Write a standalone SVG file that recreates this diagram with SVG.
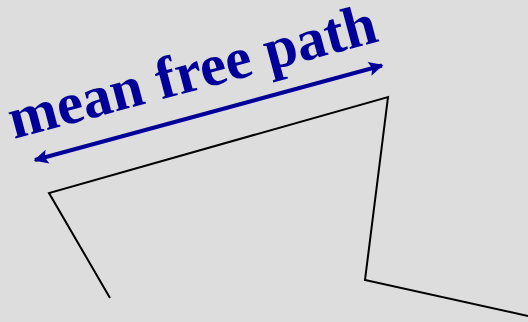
<svg xmlns="http://www.w3.org/2000/svg" width="528" height="322" viewBox="0 0 528 322">
<style>
.path{fill:none;stroke:#000;stroke-width:2}
.arrow{stroke:#000099;stroke-width:4;fill:none}
.label{font-family:"Liberation Serif",serif;font-weight:bold;font-size:59px;fill:#000099}
</style>
<defs>
<marker id="ah" viewBox="0 0 10 10" refX="9" refY="5" markerWidth="5" markerHeight="3.6" orient="auto-start-reverse" markerUnits="strokeWidth">
<path d="M0,0 L10,5 L0,10 L2,5 Z" fill="#000099"/>
</marker>
</defs>
<rect width="528" height="322" fill="#dddddd"/>
<g id="trajectory">
<polyline class="path" points="110,298 49,193 388,97 365,280 528,316"/>
</g>
<g id="connectors">
<line class="arrow" x1="35" y1="160" x2="382" y2="65.5" marker-start="url(#ah)" marker-end="url(#ah)"/>
</g>
<g id="label">
<text class="label" x="14" y="139" transform="rotate(-15 14 139)">mean free path</text>
</g>
</svg>
